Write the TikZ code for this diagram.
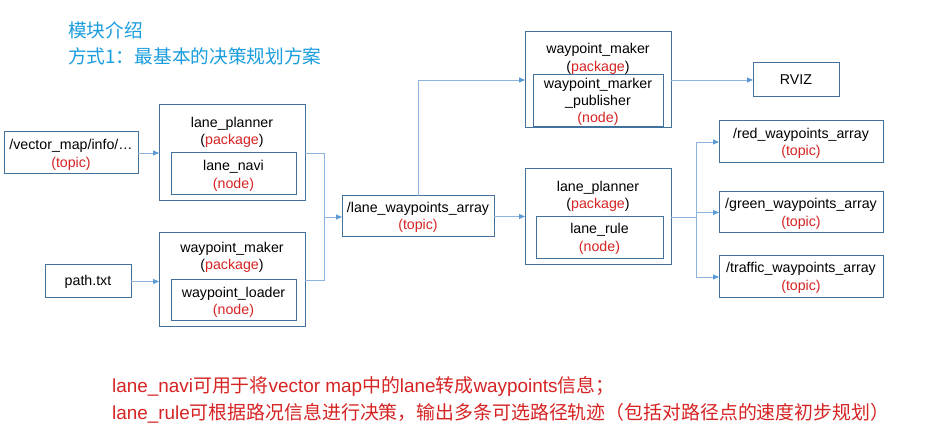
\documentclass[tikz,border=0pt]{standalone}
\usepackage{fontspec}
\setmainfont{Liberation Sans}
\newfontfamily\cjk{Noto Sans CJK SC}
\usetikzlibrary{arrows.meta}
\definecolor{boxc}{RGB}{65,113,156}
\definecolor{linec}{RGB}{140,180,222}
\definecolor{tipc}{RGB}{91,155,213}
\definecolor{redc}{RGB}{214,35,35}
\definecolor{titlec}{RGB}{26,157,222}
\newcommand{\rd}[1]{\textcolor{redc}{#1}}
\tikzset{
  box/.style={draw=boxc, line width=1pt, anchor=north west, inner sep=0pt, outer sep=0pt},
  txt/.style={font=\fontsize{14.2pt}{17.5pt}\selectfont, align=center, inner sep=0pt, text=black},
  conn/.style={draw=linec, line width=0.9pt},
  arr/.style={conn, -{Triangle[length=6pt,width=5pt,color=tipc]}},
  ttl/.style={font=\cjk\fontsize{18.7pt}{22pt}\selectfont, text=titlec, anchor=west, inner sep=0pt},
  note/.style={font=\fontsize{18.9pt}{22pt}\selectfont, text=redc, anchor=west, inner sep=0pt}
}
\begin{document}
\begin{tikzpicture}[x=1pt,y=-1pt]
\useasboundingbox[fill=white] (0,0) rectangle (946,435);
% titles
\node[ttl] (t1) at (68,30) {模块介绍};
\node[ttl] (t2) at (68,56) {方式1：最基本的决策规划方案};
% boxes
\node[box, minimum width=134pt, minimum height=42pt] (vm) at (4,132) {};
\node[box, minimum width=146pt, minimum height=96pt] (lp1) at (159,105) {};
\node[box, minimum width=125pt, minimum height=42pt] (ln) at (171,153) {};
\node[box, minimum width=86pt, minimum height=33pt] (pt) at (45,265) {};
\node[box, minimum width=146pt, minimum height=94pt] (wm1) at (159,233) {};
\node[box, minimum width=125pt, minimum height=41pt] (wl) at (171,280) {};
\node[box, minimum width=152pt, minimum height=41pt] (lwa) at (342,196) {};
\node[box, minimum width=146pt, minimum height=96pt] (wm2) at (525,32) {};
\node[box, minimum width=130pt, minimum height=52pt] (wmp) at (533,75) {};
\node[box, minimum width=146pt, minimum height=96pt] (lp2) at (525,169) {};
\node[box, minimum width=127pt, minimum height=42pt] (lr) at (536,217) {};
\node[box, minimum width=86pt, minimum height=34pt] (rviz) at (753,63) {};
\node[box, minimum width=164pt, minimum height=42pt] (red) at (719,121) {};
\node[box, minimum width=164pt, minimum height=41pt] (green) at (719,192) {};
\node[box, minimum width=164pt, minimum height=42pt] (traffic) at (719,256) {};
% texts
\node[txt] (vmt) at (71,155) {/vector\_map/info/…\\\rd{(topic)}};
\node[txt] (lp1t) at (232,132.5) {lane\_planner\\(\rd{package})};
\node[txt] (lnt) at (233.5,176) {lane\_navi\\\rd{(node)}};
\node[txt] (ptt) at (88,282) {path.txt};
\node[txt] (wm1t) at (232,257.5) {waypoint\_maker\\(\rd{package})};
\node[txt] (wlt) at (233.5,302.5) {waypoint\_loader\\\rd{(node)}};
\node[txt] (lwat) at (418,217.5) {/lane\_waypoints\_array\\\rd{(topic)}};
\node[txt] (wm2t) at (598,59) {waypoint\_maker\\(\rd{package})};
\node[txt, font=\fontsize{14.2pt}{17pt}\selectfont] (wmpt) at (598,101.5) {waypoint\_marker\\\_publisher\\\rd{(node)}};
\node[txt] (lp2t) at (598,196.5) {lane\_planner\\(\rd{package})};
\node[txt] (lrt) at (599.5,239) {lane\_rule\\\rd{(node)}};
\node[txt] (rvizt) at (796,80) {RVIZ};
\node[txt] (redt) at (801,143.5) {/red\_waypoints\_array\\\rd{(topic)}};
\node[txt] (greent) at (801,214) {/green\_waypoints\_array\\\rd{(topic)}};
\node[txt] (traffict) at (801,278) {/traffic\_waypoints\_array\\\rd{(topic)}};
% connectors
\coordinate (j1) at (324,217);
\coordinate (j2) at (696,217);
\draw[arr] (vm.east) -- (vm.east -| lp1.west);
\draw[arr] (pt.east) -- (pt.east -| wm1.west);
\draw[conn] (lp1.east) -| (j1);
\draw[conn] (wm1.east) -| (j1);
\draw[arr] (j1) -- (j1 -| lwa.west);
\draw[arr] (lwa.north) |- (wm2.west);
\draw[arr] (lwa.east) -- (lwa.east -| lp2.west);
\draw[arr] (wm2.east) -- (wm2.east -| rviz.west);
\draw[conn] (lp2.east) -- (j2);
\draw[arr] (j2) |- (red.west);
\draw[arr] (j2) |- (green.west);
\draw[arr] (j2) |- (traffic.west);
% notes
\node[note] (n1) at (112,386) {lane\_navi{\cjk 可用于将}vector map{\cjk 中的}lane{\cjk 转成}waypoints{\cjk 信息；}};
\node[note] (n2) at (112,413) {lane\_rule{\cjk 可根据路况信息进行决策，输出多条可选路径轨迹（包括对路径点的速度初步规划）}};
\end{tikzpicture}
\end{document}
